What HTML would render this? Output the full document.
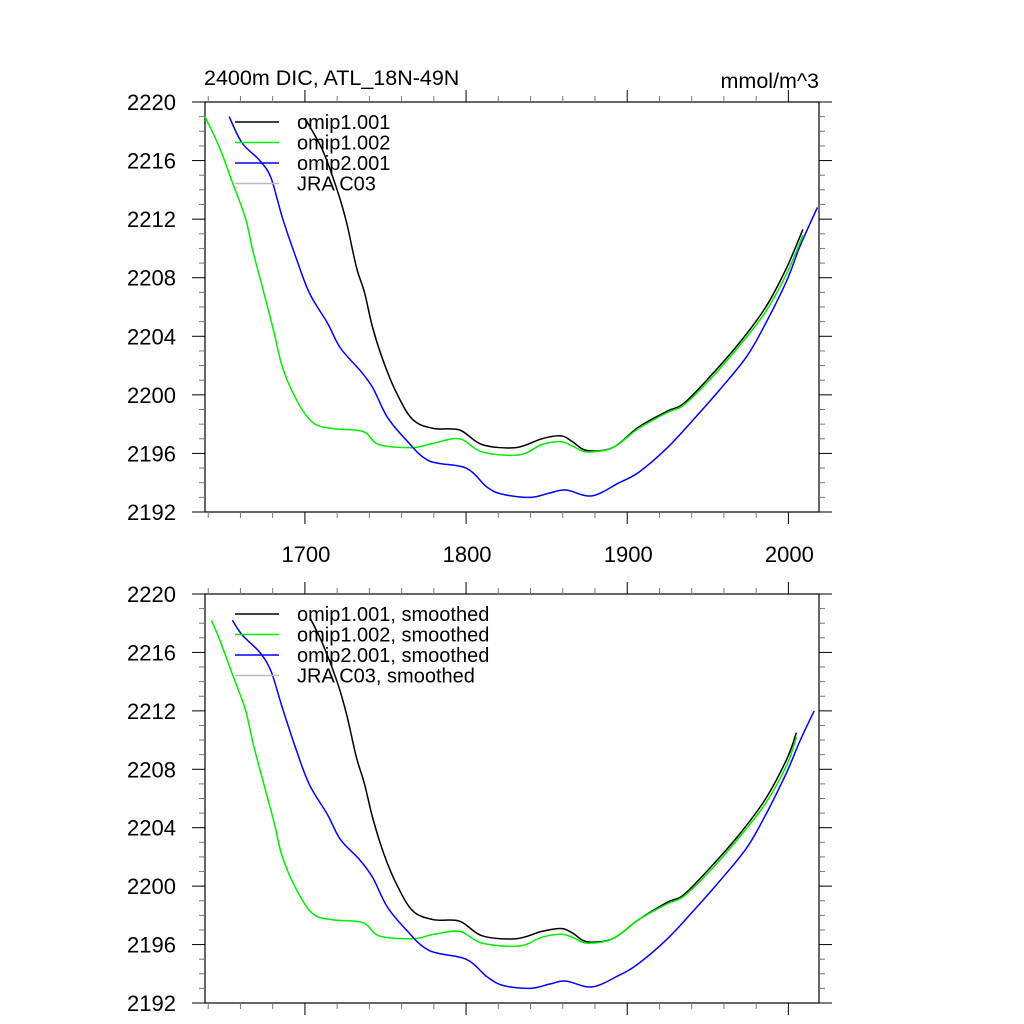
<!DOCTYPE html>
<html><head><meta charset="utf-8"><style>
html,body{margin:0;padding:0;background:#fff}
svg{display:block;font-family:"Liberation Sans",Arial,sans-serif}
</style></head><body>
<svg id="chart" width="1024" height="1024" viewBox="0 0 1024 1024" xmlns="http://www.w3.org/2000/svg">
<text x="204" y="85" font-size="21.5">2400m DIC, ATL_18N-49N</text>
<text x="819" y="88" font-size="21.5" text-anchor="end">mmol/m^3</text>
</svg>
<script>
// ---- data (top panel) ----
const o1Years=[1700,1711,1720,1726,1732,1737,1742,1749,1757,1767,1780,1796,1810,1831,1847,1859,1866,1875,1891,1907,1925,1935,1951,1970,1986,1999,2009];
const o1Vals=[2218.9,2216.7,2214.0,2211.7,2208.7,2207.0,2204.6,2202.2,2200.1,2198.3,2197.7,2197.6,2196.6,2196.4,2197.0,2197.2,2196.8,2196.2,2196.4,2197.8,2198.9,2199.4,2201.2,2203.6,2206.0,2208.7,2211.3];
const o2Years=[1638,1647,1655,1663,1668,1674,1681,1686,1695,1705,1717,1736,1746,1767,1780,1796,1810,1833,1847,1859,1866,1875,1891,1907,1925,1935,1951,1970,1986,1999,2009];
const o2Vals=[2219.0,2216.9,2214.5,2212.1,2209.7,2207.2,2204.2,2201.9,2199.6,2198.1,2197.7,2197.5,2196.6,2196.4,2196.7,2197.0,2196.1,2195.9,2196.6,2196.8,2196.5,2196.1,2196.4,2197.7,2198.8,2199.3,2201.0,2203.4,2205.7,2208.3,2210.9];
const bYears=[1653,1661,1672,1679,1686,1695,1703,1714,1722,1734,1742,1751,1763,1777,1800,1813,1823,1840,1852,1862,1878,1895,1907,1925,1941,1957,1974,1986,1999,2007,2018];
const bVals=[2219.0,2217.2,2216.0,2214.8,2212.1,2209.2,2206.9,2204.9,2203.2,2201.7,2200.5,2198.5,2196.9,2195.5,2195.0,2193.7,2193.2,2193.0,2193.3,2193.5,2193.1,2194.0,2194.7,2196.4,2198.3,2200.3,2202.6,2204.9,2207.8,2210.1,2212.8];
// ---- data (bottom panel, smoothed) ----
const so1Years=[1703,1711,1720,1726,1732,1737,1742,1749,1757,1767,1780,1796,1810,1831,1847,1859,1866,1875,1891,1907,1925,1935,1951,1970,1986,1999,2005];
const so1Vals=[2218.4,2216.6,2214.0,2211.7,2208.8,2207.0,2204.7,2202.2,2200.1,2198.3,2197.7,2197.6,2196.6,2196.4,2196.9,2197.1,2196.8,2196.2,2196.4,2197.7,2198.9,2199.4,2201.2,2203.6,2206.0,2208.7,2210.5];
const so2Years=[1642,1647,1655,1663,1668,1674,1681,1686,1695,1705,1717,1736,1746,1767,1780,1796,1810,1833,1847,1859,1866,1875,1891,1907,1925,1935,1951,1970,1986,1999,2005];
const so2Vals=[2218.2,2216.9,2214.5,2212.1,2209.7,2207.2,2204.3,2202.0,2199.7,2198.1,2197.7,2197.5,2196.6,2196.4,2196.7,2196.9,2196.1,2195.9,2196.5,2196.7,2196.5,2196.1,2196.4,2197.7,2198.8,2199.3,2201.0,2203.4,2205.7,2208.3,2210.2];
const sbYears=[1655,1661,1672,1679,1686,1695,1703,1714,1722,1734,1742,1751,1763,1777,1800,1813,1823,1840,1852,1862,1878,1895,1907,1925,1941,1957,1974,1986,1999,2007,2016];
const sbVals=[2218.2,2217.2,2216.0,2214.7,2212.2,2209.2,2206.9,2204.9,2203.2,2201.8,2200.6,2198.6,2197.0,2195.6,2195.0,2193.8,2193.2,2193.0,2193.3,2193.5,2193.1,2193.9,2194.7,2196.4,2198.3,2200.3,2202.6,2204.9,2207.8,2209.9,2212.0];
const yTicks=[2192,2196,2200,2204,2208,2212,2216,2220];
const xTicks=[1700,1800,1900,2000];
const legendTop=["omip1.001","omip1.002","omip2.001","JRA C03"];
const legendBot=["omip1.001, smoothed","omip1.002, smoothed","omip2.001, smoothed","JRA C03, smoothed"];
const colors=["#000000","#00ee00","#0000ff","#bbbbbb"];

const NS="http://www.w3.org/2000/svg";
const svg=document.getElementById('chart');
const X0=205,X1=819,XMIN=1638,XMAX=2019,YMIN=2192,YMAX=2220;
function xs(yr){return X0+(yr-XMIN)*(X1-X0)/(XMAX-XMIN);}
function mk(tag,attrs,parent){const e=document.createElementNS(NS,tag);for(const k in attrs)e.setAttribute(k,attrs[k]);(parent||svg).appendChild(e);return e;}
function smoothPath(pts){
  let d='M'+pts[0][0].toFixed(1)+','+pts[0][1].toFixed(1);
  for(let i=0;i<pts.length-1;i++){
    const p0=pts[Math.max(0,i-1)],p1=pts[i],p2=pts[i+1],p3=pts[Math.min(pts.length-1,i+2)];
    const c1x=p1[0]+(p2[0]-p0[0])/6,c1y=p1[1]+(p2[1]-p0[1])/6;
    const c2x=p2[0]-(p3[0]-p1[0])/6,c2y=p2[1]-(p3[1]-p1[1])/6;
    d+=' C'+c1x.toFixed(1)+','+c1y.toFixed(1)+' '+c2x.toFixed(1)+','+c2y.toFixed(1)+' '+p2[0].toFixed(1)+','+p2[1].toFixed(1);
  }
  return d;
}

function panel(top,bottom,series,legend,showXLabels,pname){
  const g=mk('g',{});
  
  
  const ys=v=>bottom-(v-YMIN)*(bottom-top)/(YMAX-YMIN);
  const frame=mk('rect',{x:X0,y:top,width:X1-X0,height:bottom-top,fill:'none',stroke:'#000','stroke-width':1.2},g);
  
  
  for(let v=YMIN;v<=YMAX;v++){
    const major=(v-YMIN)%4===0, len=major?13:6, y=ys(v);
    const tl=mk('line',{x1:X0-len,x2:X0,y1:y,y2:y,stroke:major?'#000':'#777','stroke-width':1},g);
    
    
    const tr=mk('line',{x1:X1,x2:X1+len,y1:y,y2:y,stroke:major?'#000':'#777','stroke-width':1},g);
    
    
  }
  yTicks.forEach(v=>{
    const t=mk('text',{x:176,y:ys(v)+8,'font-size':22,'text-anchor':'end'},g);
    t.textContent=v;
    
    
  });
  for(let yr=1640;yr<=XMAX;yr+=20){
    const major=yr%100===0,len=major?12:6,x=xs(yr);
    const tb=mk('line',{x1:x,x2:x,y1:bottom,y2:bottom+len,stroke:major?'#000':'#777','stroke-width':1},g);
    
    
    const tt=mk('line',{x1:x,x2:x,y1:top-len,y2:top,stroke:major?'#000':'#777','stroke-width':1},g);
    
    
  }
  if(showXLabels){
    xTicks.forEach(yr=>{
      const t=mk('text',{x:xs(yr)+1,y:bottom+50,'font-size':22,'text-anchor':'middle'},g);
      t.textContent=yr;
      
      
    });
  }
  const names=['omip1-001-line','omip1-002-line','omip2-001-line'];
  series.forEach((s,i)=>{
    const pts=s[0].map((yr,j)=>[xs(yr),ys(s[1][j])]);
    const p=mk('path',{d:smoothPath(pts),fill:'none',stroke:colors[i],'stroke-width':1.5,'stroke-linejoin':'round'},g);
    
    
  });
  legend.forEach((lab,i)=>{
    const y=top+20+i*20.5;
    const l=mk('line',{x1:235,x2:279,y1:y,y2:y,stroke:colors[i],'stroke-width':1.4},g);
    
    
    const t=mk('text',{x:297,y:y+7,'font-size':20},g);
    t.textContent=lab;
    
    
  });
}
panel(102,512,[[o1Years,o1Vals],[o2Years,o2Vals],[bYears,bVals]],legendTop,true,'top-panel');
panel(594,1003,[[so1Years,so1Vals],[so2Years,so2Vals],[sbYears,sbVals]],legendBot,false,'bottom-panel');
</script>
</body></html>
